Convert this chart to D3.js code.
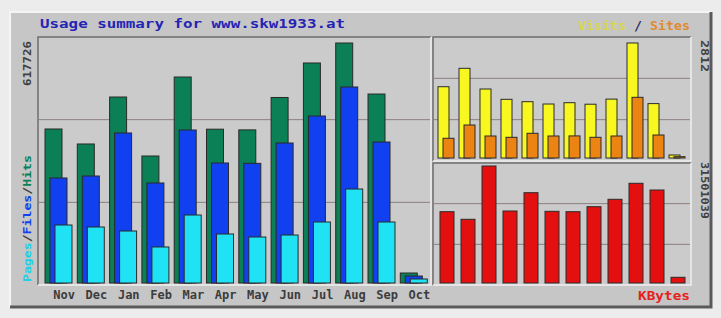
<!DOCTYPE html>
<html lang="en">
<head>
  <meta charset="UTF-8">
  <title>Usage summary</title>
  <script src="https://d3js.org/d3.v7.min.js"></script>
  <style>
    body { margin: 0; background: #ececec; }
    text { font-family: "DejaVu Sans Mono", monospace; font-weight: bold; }
  </style>
</head>
<body>
  <svg id="svg" width="721" height="318"></svg>
  <script>
    // data
    var months = ['Nov', 'Dec', 'Jan', 'Feb', 'Mar', 'Apr', 'May', 'Jun', 'Jul', 'Aug', 'Sep', 'Oct']
    var hits   = [396400, 357800, 478700, 326900, 530200, 395900, 394100, 477500, 566300, 617726, 486400, 25700]
    var files  = [270300, 275400, 386100, 257400, 393800, 308900, 308000, 360300, 429800, 504500, 362900, 18000]
    var pages  = [149300, 144100, 133800, 92700, 175000, 126100, 118400, 123500, 157000, 241900, 157000, 10300]
    var visits = [1743, 2193, 1687, 1435, 1377, 1320, 1352, 1315, 1440, 2812, 1330, 73]
    var sites  = [482, 807, 538, 506, 604, 538, 540, 506, 538, 1484, 562, 32]
    var kbytes = [19197000, 17150000, 31501039, 19385000, 24312000, 19300000, 19197000, 20543000, 22535000, 26843000, 25039000, 1535000]
    var title = 'Usage summary for www.skw1933.at'

    var svg = d3.select('svg')

    // outer frame
    svg.append('rect').attr('x', 10).attr('y', 12).attr('width', 702).attr('height', 296)
      .style('fill', '#c6c6c6')
    svg.append('path').attr('d', 'M10,308 L10,12 L712,12').style('fill', 'none')
      .style('stroke', '#f4f4f4').style('stroke-width', 2)
    svg.append('path').attr('d', 'M10,307 L711,307 L711,12').style('fill', 'none')
      .style('stroke', '#5a5a5a').style('stroke-width', 3)

    // plot panels
    var panels = [
      {x: 38, y: 37, w: 393, h: 248},
      {x: 433, y: 37, w: 258, h: 124},
      {x: 433, y: 163, w: 258, h: 122}
    ]
    panels.forEach(p => {
      svg.append('rect').attr('x', p.x).attr('y', p.y).attr('width', p.w).attr('height', p.h)
        .style('fill', '#cbcbcb')
      svg.append('path').attr('d', `M${p.x},${p.y + p.h} L${p.x},${p.y} L${p.x + p.w},${p.y}`)
        .style('fill', 'none').style('stroke', '#6e6e6e').style('stroke-width', 1.5)
      svg.append('path').attr('d', `M${p.x},${p.y + p.h} L${p.x + p.w},${p.y + p.h} L${p.x + p.w},${p.y}`)
        .style('fill', 'none').style('stroke', '#f0f0f0').style('stroke-width', 1.5)
      // grid lines at thirds
      ;[1, 2].forEach(k => {
        var gy = p.y + p.h * k / 3
        svg.append('line').attr('x1', p.x + 1).attr('x2', p.x + p.w - 1)
          .attr('y1', gy).attr('y2', gy)
          .style('stroke', '#8c7f7f').style('stroke-width', 1)
      })
    })

    // scales
    var xLeft = d3.scaleBand().domain(months).range([45, 45 + 12 * 32.3]).paddingInner(0)
    var xRight = d3.scaleBand().domain(months).range([438, 438 + 12 * 21]).paddingInner(0)
    var yLeft = d3.scaleLinear().domain([0, d3.max(hits)]).range([283, 43])
    var yVis = d3.scaleLinear().domain([0, d3.max(visits)]).range([158, 43])
    var yKB = d3.scaleLinear().domain([0, d3.max(kbytes)]).range([283, 166])

    function bars(data, x, y, off, w, color) {
      svg.append('g').selectAll('rect')
        .data(data)
        .enter()
        .append('rect')
        .attr('x', (d, i) => x(months[i]) + off)
        .attr('y', d => y(d))
        .attr('width', w)
        .attr('height', d => y(0) - y(d))
        .style('fill', color)
        .style('stroke', '#2a2a2a')
        .style('stroke-width', 1)
    }

    bars(hits, xLeft, yLeft, 0, 17, '#0b7f55')
    bars(files, xLeft, yLeft, 5, 17, '#1040f0')
    bars(pages, xLeft, yLeft, 10, 17, '#1fe2f4')
    bars(visits, xRight, yVis, 0, 11, '#f8f820')
    bars(sites, xRight, yVis, 5, 11, '#ec8414')
    bars(kbytes, xRight, yKB, 2, 14, '#e41010')

    // month labels
    var xAxis = d3.axisBottom(xLeft).tickSize(0).tickPadding(0)
    var ax = svg.append('g').attr('transform', 'translate(3,290)').call(xAxis)
    ax.select('.domain').remove()
    ax.selectAll('text')
      .style('font-family', '"DejaVu Sans Mono", monospace')
      .style('font-weight', 'bold')
      .style('font-size', '12px')
      .style('fill', '#3c3c3c')

    // title
    svg.append('text').attr('x', 40).attr('y', 28)
      .attr('textLength', 305).attr('lengthAdjust', 'spacingAndGlyphs')
      .style('font-size', '13px').style('fill', '#2424b4')
      .text(title)

    // legend top right
    var leg = svg.append('text').attr('x', 578).attr('y', 30)
      .attr('textLength', 112).attr('lengthAdjust', 'spacingAndGlyphs')
      .style('font-size', '12px')
    leg.append('tspan').style('fill', '#d6d650').text('Visits')
    leg.append('tspan').style('fill', '#303060').text(' / ')
    leg.append('tspan').style('fill', '#e08a30').text('Sites')

    svg.append('text').attr('x', 638).attr('y', 300)
      .attr('textLength', 52).attr('lengthAdjust', 'spacingAndGlyphs')
      .style('font-size', '12px').style('fill', '#e82020')
      .text('KBytes')

    // rotated labels, left side
    svg.append('text').attr('transform', 'translate(31,86) rotate(-90)')
      .attr('textLength', 45).attr('lengthAdjust', 'spacingAndGlyphs')
      .style('font-size', '11px').style('fill', '#404040')
      .text(d3.max(hits))
    var lab = svg.append('text').attr('transform', 'translate(31,282) rotate(-90)')
      .attr('textLength', 127).attr('lengthAdjust', 'spacingAndGlyphs')
      .style('font-size', '11px')
    lab.append('tspan').style('fill', '#20d0e8').text('Pages')
    lab.append('tspan').style('fill', '#404040').text('/')
    lab.append('tspan').style('fill', '#1040f0').text('Files')
    lab.append('tspan').style('fill', '#404040').text('/')
    lab.append('tspan').style('fill', '#0b7f55').text('Hits')

    // rotated labels, right side
    svg.append('text').attr('transform', 'translate(701,40) rotate(90)')
      .attr('textLength', 32).attr('lengthAdjust', 'spacingAndGlyphs')
      .style('font-size', '11px').style('fill', '#404040')
      .text(d3.max(visits))
    svg.append('text').attr('transform', 'translate(701,162) rotate(90)')
      .attr('textLength', 57).attr('lengthAdjust', 'spacingAndGlyphs')
      .style('font-size', '11px').style('fill', '#404040')
      .text(d3.max(kbytes))
  </script>
</body>
</html>
